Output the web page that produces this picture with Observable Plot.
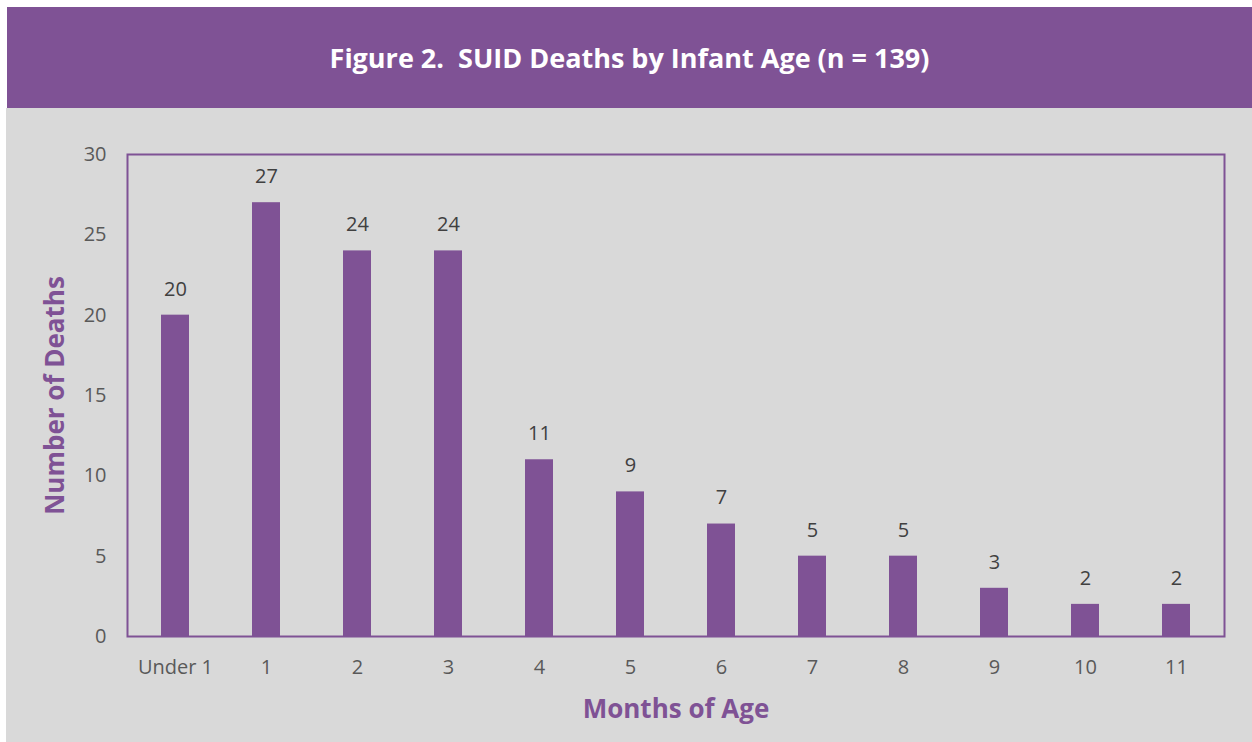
<!DOCTYPE html>
<html>
<head>
<meta charset="utf-8">
<script src="https://cdn.jsdelivr.net/npm/d3@7"></script>
<script src="https://cdn.jsdelivr.net/npm/@observablehq/plot@0.6"></script>
<style>
  html, body { margin: 0; padding: 0; background: #ffffff; }
  #wrap { position: absolute; left: 6px; top: 7px; width: 1246px; }
  #header { margin-left: 1px; height: 101px; background: #7f5295; color: #ffffff;
    font-family: "Open Sans", sans-serif; font-weight: 700; font-size: 27px;
    display: flex; align-items: center; justify-content: center; white-space: pre; }
  #chart { background: #d9d9d9; height: 634px; }
  #chart svg { display: block; }
</style>
</head>
<body>
<div id="wrap">
  <div id="header">Figure 2.  SUID Deaths by Infant Age (n = 139)</div>
  <div id="chart"></div>
</div>
<script>
const categories = ["Under 1", "1", "2", "3", "4", "5", "6", "7", "8", "9", "10", "11"];
const deaths = [20, 27, 24, 24, 11, 9, 7, 5, 5, 3, 2, 2];
const yTicks = [0, 5, 10, 15, 20, 25, 30];
const yLabel = "Number of Deaths";
const xLabel = "Months of Age";

const purple = "#7f5295";
const data = categories.map((c, i) => ({age: c, n: deaths[i]}));

const chart = Plot.plot({
  width: 1246,
  height: 634,
  marginLeft: 121,
  marginRight: 28,
  marginTop: 46,
  marginBottom: 106,
  style: {background: "transparent", fontFamily: "'Open Sans', sans-serif", fontSize: "20px", color: "#595959"},
  x: {domain: categories, paddingInner: 0.69, paddingOuter: 0.345, align: 0.5, label: null},
  y: {domain: [0, 30], label: null},
  marks: [
    Plot.axisY({ticks: yTicks, tickSize: 0, tickPadding: 21, label: null, fontSize: 20, fill: "#595959"}),
    Plot.axisX({tickSize: 0, tickPadding: 23, label: null, fontSize: 20, fill: "#595959"}),
    Plot.barY(data, {x: "age", y: "n", fill: purple}),
    Plot.text(data, {x: "age", y: "n", text: d => String(d.n), dy: -26, fill: "#404040", fontSize: 20}),
    Plot.frame({stroke: purple, strokeWidth: 2}),
    Plot.text([yLabel], {frameAnchor: "left", dx: -72, rotate: -90, textAnchor: "middle", text: d => d, fill: purple, fontSize: 26, fontWeight: "bold"}),
    Plot.text([xLabel], {frameAnchor: "bottom", dy: 81, textAnchor: "middle", text: d => d, fill: purple, fontSize: 26, fontWeight: "bold"})
  ]
});
document.getElementById("chart").appendChild(chart);
</script>
</body>
</html>
